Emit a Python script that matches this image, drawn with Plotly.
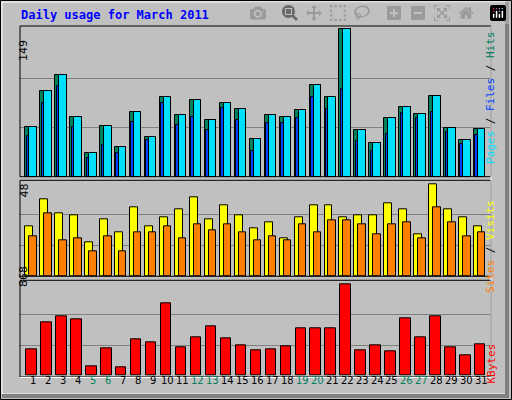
import plotly.graph_objects as go

days = list(range(1, 32))
hits = [50,87,103,60,24,51,30,65,40,81,62,78,57,75,68,38,62,60,67,93,81,149,47,34,59,70,63,82,49,37,48]
files = [50,87,103,60,24,51,30,65,40,81,62,78,57,75,68,38,62,60,67,93,81,149,47,34,59,70,63,82,49,37,48]
pages = [41,75,92,50,19,32,24,55,37,75,52,60,47,69,57,26,54,54,59,81,68,89,36,26,43,64,59,65,45,33,42]
visits = [26,40,33,32,18,30,23,36,26,31,35,41,30,37,32,25,28,20,31,37,37,31,32,32,38,35,22,48,35,31,26]
sites = [21,33,19,20,13,21,13,23,23,26,20,27,24,27,23,19,21,19,27,23,29,29,27,22,27,28,20,36,28,21,23]
kbytes = [250,507,564,535,89,260,79,345,317,687,269,364,469,355,288,241,250,279,450,450,450,868,241,288,231,545,364,564,269,193,298]
weekend = [5, 6, 12, 13, 19, 20, 26, 27]
max_hits, max_visits, max_kb = 149, 48, 868

fig = go.Figure()
ln = dict(color="black", width=1)
def bar(y, color, off, w, ax):
    fig.add_trace(go.Bar(x=days, y=y, marker=dict(color=color, line=ln), offset=off, width=w,
                         xaxis="x" + ax, yaxis="y" + ax, showlegend=False, hoverinfo="skip"))
bar(hits, "#00805C", -0.41, 0.76, "")
bar(files, "#00E0FF", -0.145, 0.495, "")
bar(pages, "#0040FF", -0.32, 0.175, "")
bar(visits, "#FFFF00", -0.41, 0.53, "2")
bar(sites, "#FF8000", -0.145, 0.495, "2")
bar(kbytes, "#FF0000", -0.35, 0.7, "3")

def py(p): return 1 - p / 400
xr = [0.23, 31.72]
xcommon = dict(range=xr, showticklabels=False, showgrid=False, zeroline=False, domain=[20/512, 491/512])
fig.update_layout(
    width=512, height=400, margin=dict(l=0, r=0, t=0, b=0),
    paper_bgcolor="#C0C0C0", plot_bgcolor="#C0C0C0", barmode="overlay", bargap=0,
    xaxis=dict(**xcommon, anchor="y"), xaxis2=dict(**xcommon, anchor="y2"), xaxis3=dict(**xcommon, anchor="y3"),
    yaxis=dict(domain=[py(176.7), py(26)], range=[0, max_hits*150.7/147.4], tickvals=[max_hits/3, 2*max_hits/3],
               showticklabels=False, gridcolor="#808080", zeroline=False),
    yaxis2=dict(domain=[py(276.3), py(180.3)], range=[0, max_visits*96/92], tickvals=[max_visits/3, 2*max_visits/3],
                showticklabels=False, gridcolor="#808080", zeroline=False),
    yaxis3=dict(domain=[py(375.7), py(280.3)], range=[0, max_kb*95.4/91.4], tickvals=[max_kb/3, 2*max_kb/3],
                showticklabels=False, gridcolor="#808080", zeroline=False),
)
shapes = [
    dict(type="rect", xref="paper", yref="paper", x0=0.5/512, x1=511.5/512, y0=py(399.5), y1=py(0.5), line=dict(color="black", width=1)),
    dict(type="rect", xref="paper", yref="paper", x0=2/512, x1=506/512, y0=py(394), y1=py(2), line=dict(color="white", width=1)),
    dict(type="line", xref="paper", yref="paper", x0=507/512, x1=507/512, y0=py(396), y1=py(2), line=dict(color="#808080", width=4)),
    dict(type="line", xref="paper", yref="paper", x0=2/512, x1=509/512, y0=py(396), y1=py(396), line=dict(color="#808080", width=4)),
]
for t, b in [(26, 176.7), (180.3, 276.3), (280.3, 377)]:
    shapes.append(dict(type="rect", xref="paper", yref="paper", x0=20/512, x1=491/512, y0=py(b), y1=py(t),
                       line=dict(color="black", width=1)))
shapes.append(dict(type="line", xref="paper", yref="paper", x0=491/512, x1=491/512, y0=py(377), y1=py(26), line=dict(color="white", width=1)))
shapes.append(dict(type="line", xref="paper", yref="paper", x0=20/512, x1=491/512, y0=py(377.5), y1=py(377.5), line=dict(color="white", width=1)))
fig.update_layout(shapes=shapes)

mono = "DejaVu Sans Mono"
ann = [
    dict(text="<b>Daily usage for March 2011</b>", x=19/512, y=py(15), xanchor="left", yanchor="middle",
         font=dict(family=mono, size=12, color="#0000FF")),
    dict(text=str(max_hits), x=15/512, y=py(38), textangle=-90, font=dict(family="DejaVu Sans", size=11, color="black")),
    dict(text=str(max_visits), x=15/512, y=py(191), textangle=-90, font=dict(family="DejaVu Sans", size=11, color="black")),
    dict(text=str(max_kb), x=15/512, y=py(289), textangle=-90, font=dict(family="DejaVu Sans", size=11, color="black")),
    dict(text="<span style='color:#00E0FF'>Pages</span><span style='color:#000000'> / </span><span style='color:#0040FF'>Files</span><span style='color:#000000'> / </span><span style='color:#00805C'>Hits</span>",
         x=499/512, y=py(29), yanchor="top", textangle=-90, font=dict(family=mono, size=11, color="black")),
    dict(text="<span style='color:#FF8000'>Sites</span><span style='color:#000000'> / </span><span style='color:#FFFF00'>Visits</span>",
         x=499/512, y=py(198), yanchor="top", textangle=-90, font=dict(family=mono, size=11, color="black")),
    dict(text="KBytes", x=499/512, y=py(342), yanchor="top", textangle=-90, font=dict(family=mono, size=11, color="#FF0000")),
]
for a in ann:
    a.update(xref="paper", yref="paper", showarrow=False)
for d in days:
    ann.append(dict(text=str(d), x=d + 0.1, xref="x3", y=py(388), yref="paper", showarrow=False,
                    font=dict(family="DejaVu Sans", size=10, color="#00805C" if d in weekend else "black")))
fig.update_layout(annotations=ann)
fig.write_html("out.html", post_script="document.body.style.margin='0';document.body.style.overflow='hidden';")
